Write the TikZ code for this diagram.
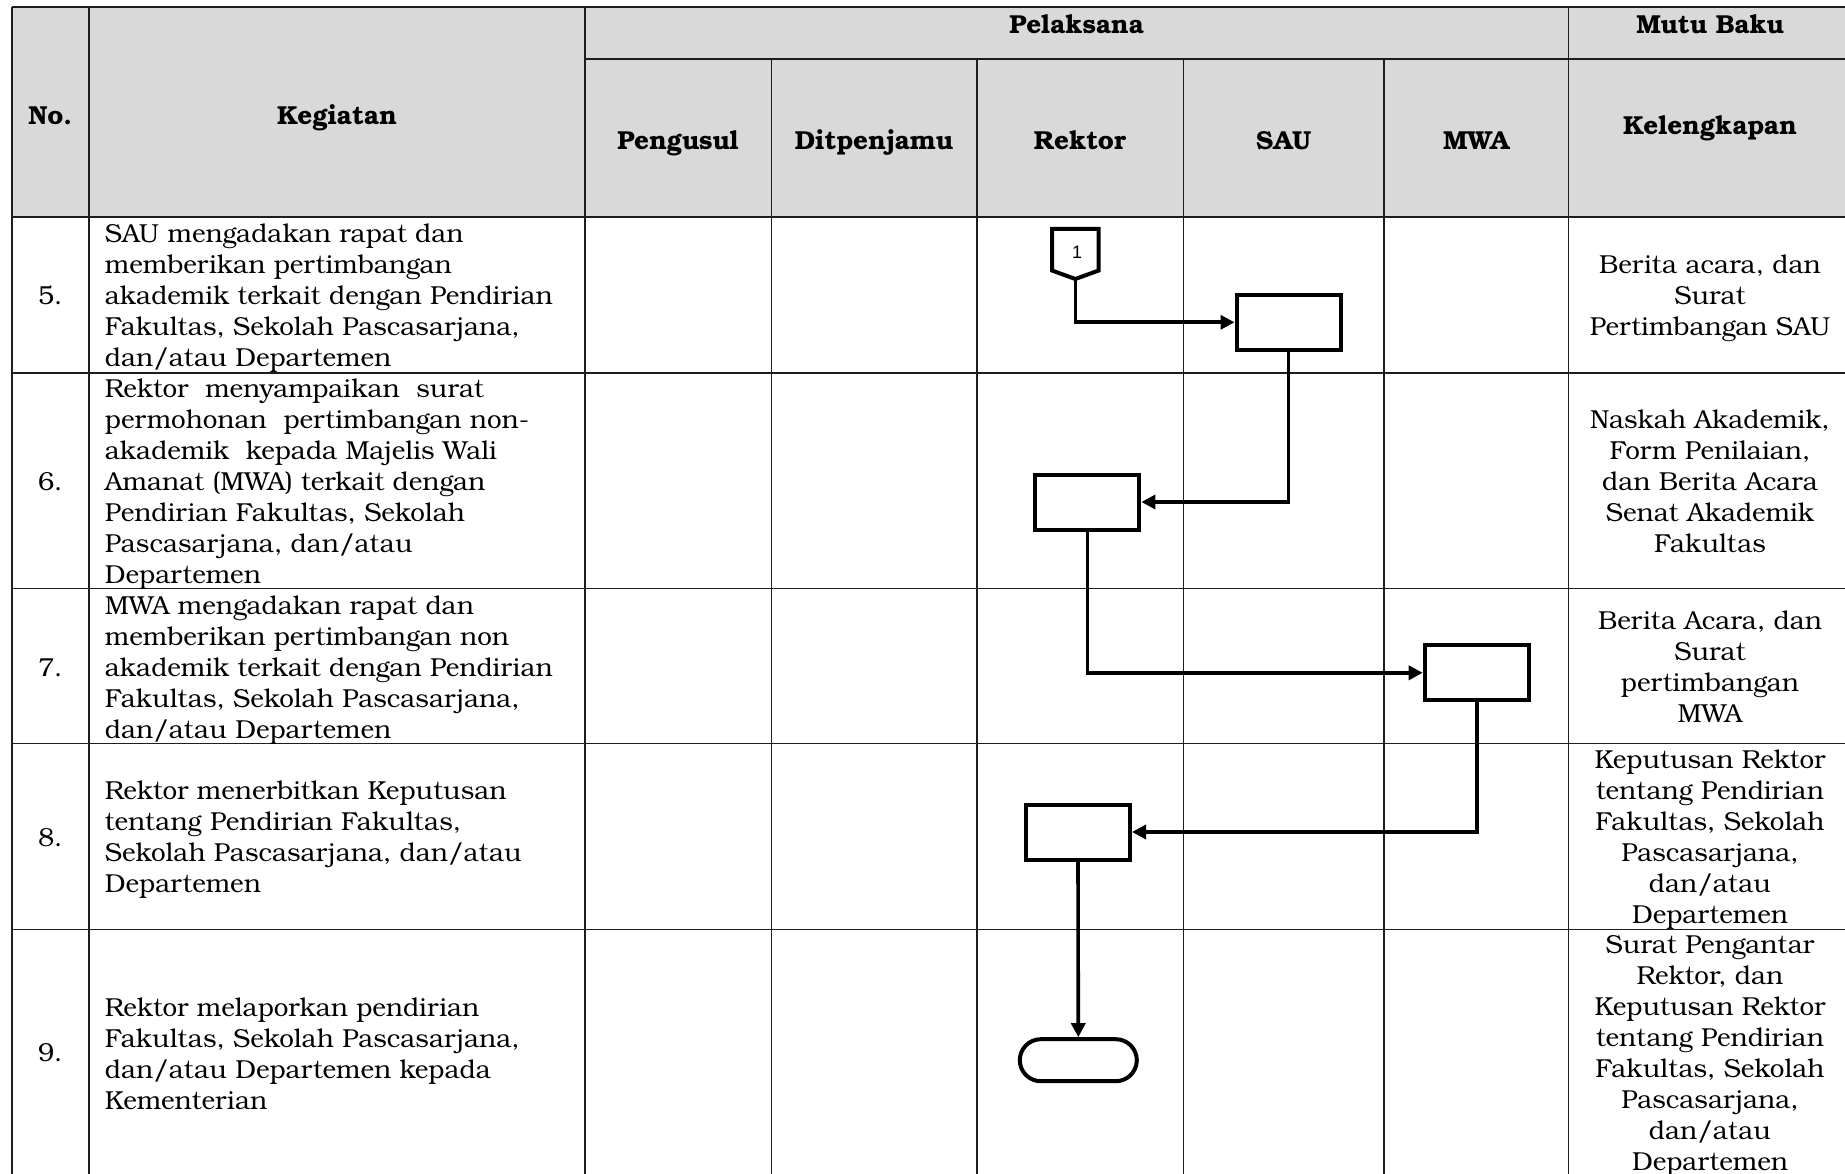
\documentclass[tikz,border=0pt]{standalone}
\usepackage{fontspec}
\setmainfont{texgyrebonum}[Extension=.otf, UprightFont=*-regular, BoldFont=*-bold, ItalicFont=*-italic, BoldItalicFont=*-bolditalic]
\newfontfamily\labelsans{Liberation Sans}
\usetikzlibrary{arrows.meta,shapes.misc}
\definecolor{headfill}{RGB}{217,217,217}
\definecolor{rulecol}{RGB}{30,30,30}
\begin{document}
\begin{tikzpicture}[x=1pt,y=-1pt,
  grid/.style={draw=rulecol,line width=1.6pt},
  headtext/.style={font=\bfseries\fontsize{26}{31}\selectfont,anchor=base,inner sep=0pt},
  numtext/.style={font=\fontsize{26}{31}\selectfont,anchor=base,inner sep=0pt},
  acttext/.style={font=\fontsize{26}{31}\selectfont,align=left,anchor=west,inner sep=0pt,
    execute at begin node=\strut,execute at end node=\strut},
  doctext/.style={font=\fontsize{26}{31}\selectfont,align=center,anchor=center,inner sep=0pt,
    execute at begin node=\strut,execute at end node=\strut},
  procbox/.style={draw,line width=4pt,minimum width=104pt,minimum height=55pt,inner sep=0pt},
  endbox/.style={draw,rounded rectangle,line width=4pt,minimum width=117pt,minimum height=42pt,inner sep=0pt},
  flow/.style={line width=3.6pt,-{Triangle[length=14pt,width=14pt]}},
  offpage/.style={line width=4pt,line join=miter},
]
\useasboundingbox (0,0) rectangle (1845,1174);
\clip (0,0) rectangle (1845,1174);

% header background
\fill[headfill] (11.7,7.3) rectangle (1852,217.3);

% horizontal rules
\draw[grid] (11.7,7.3) -- (1852,7.3);
\draw[grid] (585,59.3) -- (1852,59.3);
\foreach \yy in {217.3,372.7,588.3,743.5,929.3}
  \draw[grid] (11.7,\yy) -- (1852,\yy);
% vertical rules
\foreach \xx in {11.7,89,585,1568.3,1852}
  \draw[grid] (\xx,7.3) -- (\xx,1200);
\foreach \xx in {771.5,977,1183.3,1384}
  \draw[grid] (\xx,59.3) -- (\xx,1200);

% header labels
\node[headtext] (hno) at (50.3,124.5) {No.};
\node[headtext] (hkeg) at (337,124.5) {Kegiatan};
\node[headtext] (hpel) at (1076.7,33.5) {Pelaksana};
\node[headtext] (hmutu) at (1710,33.5) {Mutu Baku};
\node[headtext] (hpeng) at (678,150) {Pengusul};
\node[headtext] (hdit) at (874,150) {Ditpenjamu};
\node[headtext] (hrek) at (1080,150) {Rektor};
\node[headtext] (hsau) at (1283.7,150) {SAU};
\node[headtext] (hmwa) at (1476,150) {MWA};
\node[headtext] (hkel) at (1710,134.5) {Kelengkapan};

% row numbers
\node[numtext] (n5) at (50.3,304.5) {5.};
\node[numtext] (n6) at (50.3,490) {6.};
\node[numtext] (n7) at (50.3,676) {7.};
\node[numtext] (n8) at (50.3,846) {8.};
\node[numtext] (n9) at (50.3,1061) {9.};

% activities
\node[acttext] (k5) at (104.7,300) {SAU mengadakan rapat dan\\memberikan pertimbangan\\akademik terkait dengan Pendirian\\Fakultas, Sekolah Pascasarjana,\\dan/atau Departemen};
\node[acttext] (k6) at (104.7,486) {Rektor\ \ menyampaikan\ \ surat\\permohonan\ \ pertimbangan non-\\akademik\ \ kepada Majelis Wali\\Amanat (MWA) terkait dengan\\Pendirian Fakultas, Sekolah\\Pascasarjana, dan/atau\\Departemen};
\node[acttext] (k7) at (104.7,671.5) {MWA mengadakan rapat dan\\memberikan pertimbangan non\\akademik terkait dengan Pendirian\\Fakultas, Sekolah Pascasarjana,\\dan/atau Departemen};
\node[acttext] (k8) at (104.7,841.5) {Rektor menerbitkan Keputusan\\tentang Pendirian Fakultas,\\Sekolah Pascasarjana, dan/atau\\Departemen};
\node[acttext] (k9) at (104.7,1058) {Rektor melaporkan pendirian\\Fakultas, Sekolah Pascasarjana,\\dan/atau Departemen kepada\\Kementerian};

% required documents
\node[doctext] (d5) at (1710,300) {Berita acara, dan\\Surat\\Pertimbangan SAU};
\node[doctext] (d6) at (1710,486) {Naskah Akademik,\\Form Penilaian,\\dan Berita Acara\\Senat Akademik\\Fakultas};
\node[doctext] (d7) at (1710,671.5) {Berita Acara, dan\\Surat\\pertimbangan\\MWA};
\node[doctext] (d8) at (1710,841) {Keputusan Rektor\\tentang Pendirian\\Fakultas, Sekolah\\Pascasarjana,\\dan/atau\\Departemen};
\node[doctext] (d9) at (1710,1058) {Surat Pengantar\\Rektor, dan\\Keputusan Rektor\\tentang Pendirian\\Fakultas, Sekolah\\Pascasarjana,\\dan/atau\\Departemen};

% off-page connector
\draw[offpage] (1052,229) -- (1098.7,229) -- (1098.7,270.5) -- (1075.3,279) -- (1052,270.5) -- cycle;
\node[font=\labelsans\fontsize{18}{20}\selectfont,inner sep=0pt] (off1) at (1077,252) {1};
\coordinate (off1tip) at (1075.3,279);

% process steps
\node[procbox] (sau1) at (1288.5,322.3) {};
\node[procbox] (rek2) at (1087.4,502) {};
\node[procbox] (mwa1) at (1476.7,672.8) {};
\node[procbox] (rek3) at (1078,832) {};
\node[endbox] (fin) at (1078.3,1060.2) {};

% flow connectors
\draw[flow] (off1tip) |- (sau1.west);
\draw[flow] (sau1.south) |- (rek2.east);
\draw[flow] (rek2.south) |- (mwa1.west);
\draw[flow] (mwa1.south) |- (rek3.east);
\draw[flow] (rek3.south) -- (fin.north);
\end{tikzpicture}
\end{document}
